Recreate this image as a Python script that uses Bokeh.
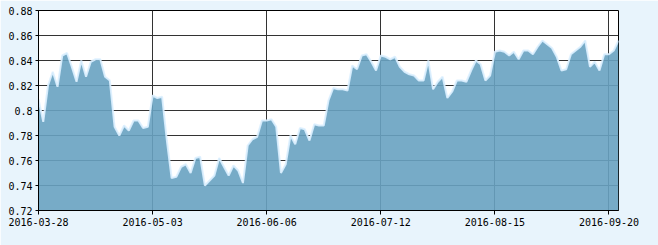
import pandas as pd
from bokeh.plotting import figure
from bokeh.models import FixedTicker, Range1d
from bokeh.embed import file_html
from bokeh.resources import INLINE

# trading days (China A-share calendar) 2016-03-28 .. 2016-09-22
holidays = ["2016-04-04", "2016-05-02", "2016-06-09", "2016-06-10", "2016-09-15", "2016-09-16"]
dates = [d.strftime("%Y-%m-%d") for d in pd.bdate_range("2016-03-28", "2016-09-22")
         if d.strftime("%Y-%m-%d") not in holidays]

values = [
    0.809, 0.791, 0.820, 0.831, 0.819, 0.844, 0.846, 0.835, 0.823, 0.840,
    0.827, 0.839, 0.841, 0.841, 0.827, 0.824, 0.787, 0.780, 0.788, 0.784,
    0.792, 0.792, 0.786, 0.787, 0.812, 0.810, 0.811, 0.776, 0.746, 0.747,
    0.755, 0.757, 0.750, 0.762, 0.763, 0.740, 0.744, 0.748, 0.762, 0.755,
    0.748, 0.756, 0.752, 0.742, 0.772, 0.777, 0.779, 0.792, 0.792, 0.793,
    0.787, 0.750, 0.757, 0.780, 0.773, 0.786, 0.785, 0.776, 0.789, 0.788,
    0.788, 0.808, 0.818, 0.817, 0.817, 0.816, 0.836, 0.833, 0.844, 0.845,
    0.839, 0.832, 0.844, 0.843, 0.841, 0.843, 0.835, 0.831, 0.829, 0.828,
    0.824, 0.824, 0.840, 0.817, 0.823, 0.827, 0.810, 0.815, 0.824, 0.824,
    0.823, 0.832, 0.840, 0.837, 0.824, 0.828, 0.847, 0.848, 0.847, 0.844,
    0.847, 0.841, 0.848, 0.848, 0.845, 0.851, 0.856, 0.853, 0.850, 0.843,
    0.832, 0.833, 0.845, 0.848, 0.851, 0.856, 0.835, 0.839, 0.832, 0.845,
    0.845, 0.848, 0.856,
]

x_tick_labels = ["2016-03-28", "2016-05-03", "2016-06-06", "2016-07-12", "2016-08-15", "2016-09-20"]
y_ticks = [0.72, 0.74, 0.76, 0.78, 0.80, 0.82, 0.84, 0.86, 0.88]
y_tick_labels = ["0.72", "0.74", "0.76", "0.78", "0.8", "0.82", "0.84", "0.86", "0.88"]

n = min(len(dates), len(values))
dates = dates[:n]
values = values[:n]
xs = list(range(n))

p = figure(width=658, height=245, output_backend="svg", toolbar_location=None,
           x_range=Range1d(0, n - 1), y_range=Range1d(y_ticks[0], y_ticks[-1]))
p.min_border_left = 38
p.min_border_right = 40
p.min_border_top = 10
p.min_border_bottom = 35
p.background_fill_color = "white"
p.border_fill_color = "#e8f4fc"
p.outline_line_color = "black"
p.outline_line_width = 1

p.varea(x=xs, y1=y_ticks[0], y2=values, fill_color="#68a2c1", fill_alpha=0.9)
p.line(x=xs, y=values, line_color="#dcefff", line_width=2, line_alpha=0.9)

xt = [dates.index(d) for d in x_tick_labels if d in dates]
p.xaxis.ticker = FixedTicker(ticks=xt)
p.xaxis.major_label_overrides = {i: dates[i] for i in xt}
p.yaxis.ticker = FixedTicker(ticks=y_ticks)
p.yaxis.major_label_overrides = {t: l for t, l in zip(y_ticks, y_tick_labels)}

for ax in (p.xaxis[0], p.yaxis[0]):
    ax.axis_line_color = "black"
    ax.major_tick_line_color = "black"
    ax.minor_tick_line_color = None
    ax.major_tick_in = 0
    ax.major_label_text_font = "DejaVu Sans Mono"
    ax.major_label_text_font_size = "10px"
    ax.major_label_text_color = "black"
    ax.major_label_standoff = 3
p.xaxis.major_tick_out = 4
p.yaxis.major_tick_out = 3

p.xgrid.grid_line_color = "#333333"
p.ygrid.grid_line_color = "#333333"
p.xgrid.grid_line_width = 1
p.ygrid.grid_line_width = 1

open("out.html", "w").write(file_html(p, INLINE))
